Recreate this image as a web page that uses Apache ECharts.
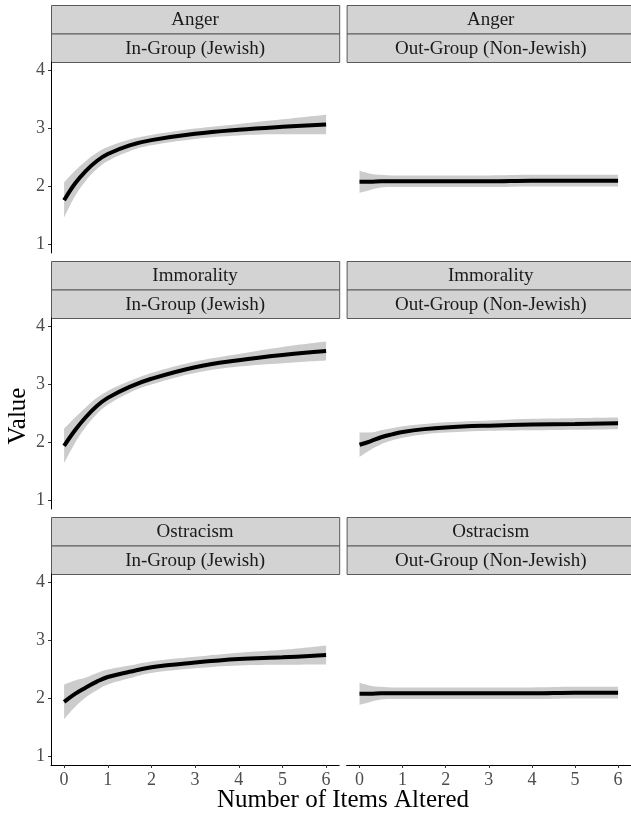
<!DOCTYPE html>
<html>
<head>
<meta charset="utf-8">
<script src="https://cdn.jsdelivr.net/npm/echarts@6/dist/echarts.min.js"></script>
<style>
html,body{margin:0;padding:0;background:#fff;}
#chart{width:631px;height:813px;}
</style>
</head>
<body>
<div id="chart"></div>
<script>
// ---- data ----
const xs = [0, 0.25, 0.5, 0.75, 1, 1.5, 2, 3, 4, 5, 6];
const xTicks = [0, 1, 2, 3, 4, 5, 6];
const yTicks = [1, 2, 3, 4];
const emotions = ['Anger', 'Immorality', 'Ostracism'];
const groups = ['In-Group (Jewish)', 'Out-Group (Non-Jewish)'];
const xTitle = 'Number of Items Altered';
const yTitle = 'Value';

const angerInMean = [1.76, 2.05, 2.27, 2.44, 2.56, 2.71, 2.80, 2.91, 2.98, 3.03, 3.07];
const angerInLo   = [1.46, 1.83, 2.10, 2.30, 2.44, 2.61, 2.71, 2.82, 2.88, 2.90, 2.90];
const angerInHi   = [2.07, 2.27, 2.44, 2.58, 2.68, 2.81, 2.89, 3.00, 3.08, 3.16, 3.24];

const angerOutMean = [2.08, 2.08, 2.09, 2.09, 2.09, 2.09, 2.09, 2.09, 2.10, 2.10, 2.10];
const angerOutLo   = [1.89, 1.94, 1.98, 1.99, 1.99, 1.99, 1.99, 1.99, 2.00, 2.00, 2.00];
const angerOutHi   = [2.27, 2.22, 2.20, 2.19, 2.19, 2.19, 2.19, 2.19, 2.20, 2.20, 2.20];

const immoralInMean = [1.94, 2.21, 2.44, 2.63, 2.77, 2.96, 3.10, 3.30, 3.42, 3.51, 3.58];
const immoralInLo   = [1.64, 1.99, 2.27, 2.49, 2.65, 2.86, 3.00, 3.20, 3.31, 3.37, 3.415];
const immoralInHi   = [2.24, 2.43, 2.61, 2.77, 2.89, 3.06, 3.20, 3.40, 3.53, 3.65, 3.745];

const immoralOutMean = [1.96, 2.02, 2.09, 2.14, 2.18, 2.23, 2.26, 2.29, 2.31, 2.32, 2.33];
const immoralOutLo   = [1.75, 1.87, 1.97, 2.035, 2.08, 2.14, 2.17, 2.20, 2.21, 2.22, 2.23];
const immoralOutHi   = [2.17, 2.17, 2.21, 2.245, 2.28, 2.32, 2.35, 2.38, 2.41, 2.42, 2.43];

const ostraInMean = [1.94, 2.08, 2.19, 2.29, 2.37, 2.46, 2.54, 2.62, 2.68, 2.71, 2.75];
const ostraInLo   = [1.64, 1.85, 2.02, 2.14, 2.24, 2.35, 2.44, 2.52, 2.57, 2.58, 2.585];
const ostraInHi   = [2.24, 2.31, 2.36, 2.44, 2.50, 2.57, 2.64, 2.72, 2.79, 2.84, 2.915];

const ostraOutMean = [2.08, 2.08, 2.09, 2.09, 2.09, 2.09, 2.09, 2.09, 2.09, 2.10, 2.10];
const ostraOutLo   = [1.89, 1.94, 1.98, 1.99, 1.99, 1.99, 1.99, 1.99, 1.99, 2.00, 2.00];
const ostraOutHi   = [2.27, 2.22, 2.20, 2.19, 2.19, 2.19, 2.19, 2.19, 2.19, 2.20, 2.20];

const panels = [
  [angerInMean, angerInLo, angerInHi], [angerOutMean, angerOutLo, angerOutHi],
  [immoralInMean, immoralInLo, immoralInHi], [immoralOutMean, immoralOutLo, immoralOutHi],
  [ostraInMean, ostraInLo, ostraInHi], [ostraOutMean, ostraOutLo, ostraOutHi]
];

// ---- layout ----
const FONT = '"Liberation Serif", "DejaVu Serif", serif';
const colLeft = [51, 346.6];
const panelW = 288.2;
const rowTop = [62, 318, 574];
const panelH = 191;
const stripH = 28.5;
const SMOOTH = 0.4;

const grids = [], xAxes = [], yAxes = [], series = [], graphics = [];
for (let r = 0; r < 3; r++) {
  for (let c = 0; c < 2; c++) {
    const i = r * 2 + c;
    grids.push({left: colLeft[c], top: rowTop[r], width: panelW, height: panelH, containLabel: false});
    const showX = r === 2, showY = c === 0;
    xAxes.push({
      type: 'value', gridIndex: i, min: -0.3, max: 6.3, z: 10,
      splitLine: {show: false},
      axisLine: {show: showX, onZero: false, lineStyle: {color: '#000', width: 1}},
      axisTick: {show: showX, length: 3, customValues: xTicks, lineStyle: {color: '#333'}},
      axisLabel: {show: showX, customValues: xTicks, margin: 6, color: '#4d4d4d', fontFamily: FONT, fontSize: 18,
                  formatter: v => String(v)}
    });
    yAxes.push({
      type: 'value', gridIndex: i, min: 0.85, max: 4.15, z: 10,
      splitLine: {show: false},
      axisLine: {show: showY, onZero: false, lineStyle: {color: '#000', width: 1}},
      axisTick: {show: showY, length: 3, customValues: yTicks, lineStyle: {color: '#333'}},
      axisLabel: {show: showY, customValues: yTicks, margin: 6, color: '#4d4d4d', fontFamily: FONT, fontSize: 18,
                  formatter: v => String(v)}
    });
    const [mean, lo, hi] = panels[i];
    // ribbon: lower bound (invisible) + stacked band thickness; value in dim 0 so the stack is on y
    series.push({
      type: 'line', xAxisIndex: i, yAxisIndex: i, stack: 'band' + i, encode: {x: 1, y: 0},
      data: xs.map((x, k) => [lo[k], x]), symbol: 'none', smooth: SMOOTH,
      lineStyle: {width: 0, opacity: 0}, silent: true, z: 1
    });
    series.push({
      type: 'line', xAxisIndex: i, yAxisIndex: i, stack: 'band' + i, encode: {x: 1, y: 0},
      data: xs.map((x, k) => [hi[k] - lo[k], x]), symbol: 'none', smooth: SMOOTH,
      lineStyle: {width: 0, opacity: 0}, areaStyle: {color: '#cccccc', opacity: 1}, silent: true, z: 1
    });
    series.push({
      type: 'line', xAxisIndex: i, yAxisIndex: i,
      data: xs.map((x, k) => [x, mean[k]]), symbol: 'none', smooth: SMOOTH,
      lineStyle: {color: '#000', width: 4}, silent: true, z: 3
    });
    // strips
    const st = rowTop[r] - 2 * stripH;
    const labels = [emotions[r], groups[c]];
    for (let s = 0; s < 2; s++) {
      graphics.push({
        type: 'rect', left: colLeft[c], top: st + s * stripH,
        shape: {width: panelW, height: stripH},
        style: {fill: '#d3d3d3', stroke: '#5a5a5a', lineWidth: 1}, z: 10
      });
      graphics.push({
        type: 'text', x: colLeft[c] + panelW / 2, y: st + s * stripH + stripH / 2 + 1,
        style: {text: labels[s], fill: '#1a1a1a', font: '19px ' + FONT, textAlign: 'center', textVerticalAlign: 'middle'}, z: 11
      });
    }
  }
}
graphics.push({
  type: 'text', x: 343, y: 800,
  style: {text: xTitle, fill: '#000', font: '25px ' + FONT, textAlign: 'center', textVerticalAlign: 'middle'}
});
graphics.push({
  type: 'text', x: 18, y: 416, rotation: Math.PI / 2,
  style: {text: yTitle, fill: '#000', font: '25px ' + FONT, textAlign: 'center', textVerticalAlign: 'middle'}
});

const chart = echarts.init(document.getElementById('chart'), null, {renderer: 'canvas'});
chart.setOption({
  animation: false,
  backgroundColor: '#fff',
  grid: grids, xAxis: xAxes, yAxis: yAxes, series: series, graphic: graphics
});
</script>
</body>
</html>
